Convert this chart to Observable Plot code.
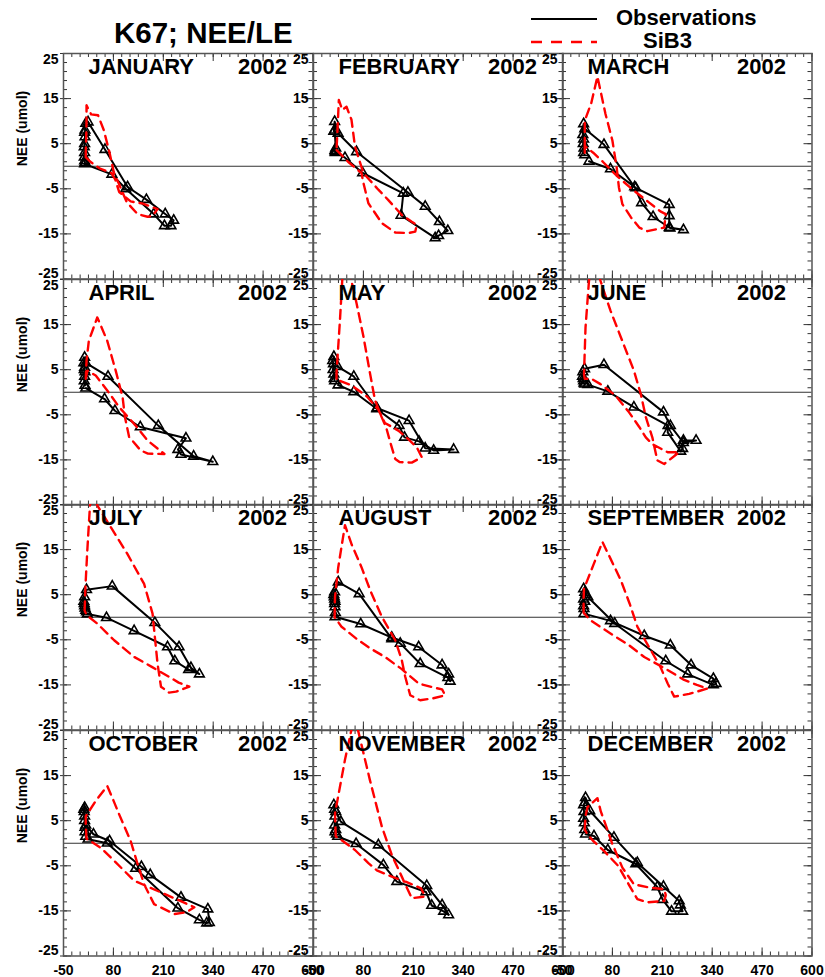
<!DOCTYPE html>
<html><head><meta charset="utf-8">
<script src="https://cdn.jsdelivr.net/npm/d3@7"></script>
<script src="https://cdn.jsdelivr.net/npm/@observablehq/plot@0.6"></script>
<style>
body{margin:0;background:#fff;}
#wrap{position:relative;width:825px;height:977px;font-family:"Liberation Sans",Arial,Helvetica,sans-serif;}
</style></head><body><div id="wrap"></div>
<script>
// ---------- data ----------
const chartTitle = "K67; NEE/LE";
const yearLabel = "2002";
const yLabel = "NEE (umol)";
const seriesNames = ["Observations", "SiB3"];
const months = ["JANUARY","FEBRUARY","MARCH","APRIL","MAY","JUNE","JULY","AUGUST","SEPTEMBER","OCTOBER","NOVEMBER","DECEMBER"];
const xTicks = [-50, 80, 210, 340, 470, 600];
const yTicks = [-25, -15, -5, 5, 15, 25];

// [LE, NEE] pairs
const obsJan = [[5,0.5],[76,-1.8],[112,-5],[185,-10.6],[213,-13.2],[230,-13.2],[237,-12],[215,-10.6],[166,-7.4],[117,-4.6],[58,3.7],[14,9.8],[8,9.5],[6,8],[5,7.5],[6,6.5],[5,5],[4,4.3],[5,3],[4,2],[5,1.2],[6,0.8]];
const simJan = [[8,2],[20,1],[45,-0.5],[75,-1.5],[85,-3],[95,-5.7],[125,-7.8],[157,-8.3],[195,-9.5],[182,-11],[169,-11.2],[143,-10.6],[115,-8],[95,-4],[82,-1.7],[70,3],[55,8],[40,11.3],[22,11.5],[10,13.5],[10,10],[9,6],[8,3],[8,2]];
const obsFeb = [[6,3.2],[32,1.9],[78,-1.5],[184,-6],[178,-10.9],[267,-15.9],[276,-15.4],[300,-14.3],[278,-12.3],[241,-8.9],[196,-5.8],[62,3.2],[14,7.3],[5,9.9],[3,7.7],[5,8],[8,4],[6,3.5],[7,3]];
const simFeb = [[10,3.6],[40,1],[75,-1.5],[80,-3.7],[93,-8.2],[128,-12.6],[163,-14.7],[197,-14.8],[215,-14.5],[219,-13],[206,-12.3],[180,-10.8],[145,-7.5],[119,-5.2],[80,-1.5],[58,4.4],[49,10.3],[36,13.2],[25,12.5],[16,14.7],[13,9],[10,3.6]];
const obsMar = [[19,1.1],[75,-0.6],[141,-4.8],[228,-8.5],[228,-11],[228,-13.6],[265,-14.1],[230,-13.7],[186,-11.2],[156,-8.1],[138,-4.6],[58,4.8],[8,8.3],[5,9.4],[3,7],[5,6],[4,5],[6,4],[5,3],[8,2.5]];
const simMar = [[8,3],[8,4.5],[30,3],[55,1],[90,-2],[130,-5],[175,-8],[205,-10],[219,-10.6],[215,-13.6],[171,-14.4],[150,-13.6],[128,-11.3],[106,-8.4],[97,-4.7],[91,-0.2],[80,5.7],[62,11.6],[41,19.9],[25,14],[8,10.1],[8,6],[8,3]];
const obsApr = [[8,0.9],[57,-1.5],[84,-4.1],[150,-7.7],[269,-10.2],[248,-12.7],[256,-13.8],[339,-15.4],[289,-14.2],[197,-7.4],[66,3.5],[8,6.5],[5,7.7],[3,6.5],[5,5.5],[4,5],[6,4.5],[5,3.5],[4,2.5],[6,1.5]];
const simApr = [[8,3],[12,4.8],[34,3.7],[64,0.4],[95,-3.3],[138,-7.4],[169,-10.7],[213,-13.7],[170,-13.6],[151,-12.9],[121,-9.9],[110,-5.5],[104,-1.1],[86,4.8],[64,11.4],[38,16.6],[16,11.4],[10,7],[8,3]];
const obsMay = [[14,1.6],[55,0.1],[115,-3.7],[173,-7.4],[187,-10],[225,-10.9],[263,-12.9],[315,-12.7],[241,-12.4],[199,-6.3],[115,-3.5],[55,3.5],[13,5.7],[3,7.9],[0,7],[2,6.3],[1,5],[3,4],[4,3],[5,2.5]];
const simMay = [[10,3],[10,4.3],[19,16.1],[25,25],[34,30],[48,25],[62,19.8],[80,12.4],[97,4.3],[110,-1.7],[125,-5],[140,-8],[150,-11.1],[163,-14.8],[175,-15.5],[206,-15.6],[232,-14.4],[219,-12.2],[197,-10.4],[171,-8.5],[136,-6.8],[119,-3.9],[90,-1],[50,1.5],[20,2.5],[10,3]];
const obsJun = [[16,1.7],[68,0.2],[136,-3.3],[225,-7.4],[224,-8.9],[258,-13.1],[263,-12.5],[265,-10.7],[298,-10.7],[265,-11.2],[231,-7.4],[213,-4.4],[58,6.1],[7.5,5.2],[3,4.5],[2,3.5],[4,3],[5,2.5],[6,2],[8,1.8]];
const simJun = [[8,3],[6,4],[10,14.4],[19,24.7],[32,31],[49,24.7],[75,18.1],[102,12.2],[136,4.8],[154,-0.4],[167,-5.5],[184,-10],[197,-15.1],[215,-15.9],[254,-13.3],[224,-13.3],[184,-11.5],[167,-10],[150,-7.7],[123,-4.4],[88,-0.7],[49,1.8],[25,3],[8,3]];
const obsJul = [[12,0.7],[62,-0.1],[134,-3],[221,-6.6],[240,-9.7],[276,-11.6],[304,-12.6],[282,-11.2],[251,-6.6],[188,-1.2],[77,6.9],[10,6.1],[5,4.5],[3,3.5],[4,3],[5,2.5],[6,2],[8,1.5],[10,1.2]];
const simJul = [[5,1.5],[7.5,7.4],[12,14.8],[19,24.8],[28,28.5],[38,24.8],[68,20.7],[116,14.1],[160,7.4],[182,0.8],[188,-4.4],[195,-10.3],[204,-15.4],[225,-16.7],[243,-16.5],[278,-15.4],[250,-14.5],[225,-13.2],[180,-11],[134,-8.8],[82,-5.1],[38,-1.4],[10,0.5],[5,1.5]];
const obsAug = [[6,0.1],[73,-1.5],[154,-4.5],[224,-6.6],[285,-10.6],[302,-12.6],[306,-14.2],[300,-13.4],[228,-10.3],[176,-5.8],[154,-4.8],[69,5.2],[14.5,7.8],[5,5.6],[3,5],[4,4.5],[5,4],[6,3.5],[5,3],[6,2.3],[7,1]];
const simAug = [[5,0],[6,4.5],[14.5,11.1],[32,20.4],[50,16],[75,11.1],[100,5.5],[128,0.1],[163,-5.1],[180,-9.5],[189,-13.2],[202,-17.3],[228,-18.4],[260,-18],[293,-17.3],[285,-16],[260,-15.5],[224,-14.7],[180,-11.5],[136,-8.8],[100,-7],[67,-5.1],[23,-2.1],[5,0]];
const obsSep = [[6,0.8],[75,-0.8],[163,-4.1],[231,-6.2],[285,-10.6],[343,-13.6],[350,-14.7],[343,-15],[276,-12.6],[219,-9.7],[86,-1.4],[16,4.5],[5,6.3],[8,5.5],[10,5],[5,4],[8,3.5],[5,2.5],[6,1.9]];
const simSep = [[5,1],[5,4],[6,6.3],[30,11.5],[54,16.7],[75,13],[102,8.2],[125,3],[145,-2.1],[180,-7.3],[205,-11],[224,-14.7],[241,-17.6],[280,-17],[328,-15.8],[300,-15],[267,-13.9],[220,-11.5],[163,-8.8],[120,-6],[75,-3.6],[23,-0.7],[5,1]];
const obsOct = [[14,0.9],[64,0],[138,-5.6],[248,-14.4],[304,-17],[323,-17.7],[330,-17.6],[326,-14.6],[256,-12],[176,-7],[153,-5.2],[70,0.5],[28,2],[8,4],[5,6],[3,7.5],[5,7.9],[4,7],[5,5],[6,3.5],[6,2.5],[8,1.5]];
const simOct = [[10,1],[8,4],[8,6],[35,9.5],[64,12.7],[80,9.5],[95,6.4],[125,0.5],[143,-4.6],[160,-9.1],[186,-13.5],[239,-15.7],[270,-15.3],[291,-14.2],[260,-13],[220,-11.5],[134,-8.3],[82,-3.9],[47,-1],[12,0.9],[10,1]];
const obsNov = [[13,1.5],[61,-0.1],[132,-4.8],[167,-8.5],[243,-10.8],[258,-13.8],[289,-15.1],[302,-15.9],[285,-13.7],[245,-9.4],[119,-0.4],[21,4.8],[8,7],[3,8.5],[5,7.5],[6,6],[5,4],[8,3],[6,2.5],[10,2]];
const simNov = [[8,1.5],[6,6.6],[32,18.5],[56,28],[67,24.7],[97,14],[128,3.7],[154,-2.6],[180,-7.4],[206,-12.2],[241,-11.8],[230,-10],[190,-8.5],[154,-7.4],[115,-6],[93,-4.4],[58,-1.5],[23,0.7],[8,1.5]];
const obsDec = [[10,2],[32,1.6],[68,-1.5],[141,-4.6],[197,-9.7],[211,-12.5],[234,-15.1],[263,-15.1],[257,-13.7],[254,-12.8],[213,-9.6],[145,-4.3],[84,1.3],[21,7.2],[10,10.1],[8,9],[5,8.5],[6,7],[5,5.5],[7,4.5],[8,3]];
const simDec = [[8,3],[10,6],[15,8],[41,10],[50,7],[62,4.2],[80,-0.2],[106,-5.4],[136,-9.1],[175,-9.8],[215,-10.2],[219,-11.5],[215,-12.8],[171,-13.1],[145,-12.4],[125,-9.5],[95,-5],[58,-1.7],[30,0.5],[15,2],[8,3]];

const obsAll = [obsJan,obsFeb,obsMar,obsApr,obsMay,obsJun,obsJul,obsAug,obsSep,obsOct,obsNov,obsDec];
const simAll = [simJan,simFeb,simMar,simApr,simMay,simJun,simJul,simAug,simSep,simOct,simNov,simDec];

// ---------- layout ----------
const wrap = document.getElementById("wrap");
const FONT = "'Liberation Sans', Arial, Helvetica, sans-serif";
const PW = 249.5, PH = 225.5, X0 = 63, Y0 = 53;
const ML = 50, MR = 4, MT = 4, MB = 26;
const yMinor = d3.range(yTicks[0], yTicks[yTicks.length-1] + 0.001, 2);
const xStep = (xTicks[1] - xTicks[0]) / 6;
const xMinor = d3.range(0, (xTicks.length - 1) * 6 + 1).map(i => xTicks[0] + i * xStep);
const TK = "#333";
const lblFont = {fontSize: 14, fontWeight: "bold", tickFormat: d => String(d), label: null, tickSize: 0};

// header (title + legend)
const ns = "http://www.w3.org/2000/svg";
const head = document.createElementNS(ns, "svg");
head.setAttribute("width", 825); head.setAttribute("height", 53);
head.style.position = "absolute"; head.style.left = "0px"; head.style.top = "0px";
head.innerHTML = `
  <text x="114" y="43" font-family="${FONT}" font-weight="bold" font-size="29.5" fill="#000">${chartTitle}</text>
  <line x1="531" x2="597" y1="19" y2="19" stroke="#000" stroke-width="2"/>
  <text x="616" y="25" font-family="${FONT}" font-weight="bold" font-size="22" fill="#000">${seriesNames[0]}</text>
  <line x1="531" x2="597" y1="42" y2="42" stroke="#f00" stroke-width="2.5" stroke-dasharray="11,9"/>
  <text x="643" y="48" font-family="${FONT}" font-weight="bold" font-size="22" fill="#000">${seriesNames[1]}</text>`;
wrap.appendChild(head);

months.forEach((m, i) => {
  const r = Math.floor(i / 3), c = i % 3;
  const bottom = r === 3;
  const mid = yTicks.filter(v => v !== yTicks[0] && v !== yTicks[yTicks.length-1]);
  const marks = [
    Plot.ruleY([0], {stroke: "#333", strokeWidth: 1}),
    // minor ticks (inward)
    Plot.tickY(yMinor, {y: d => d, insetRight: PW - 4, stroke: TK}),
    Plot.tickY(yMinor, {y: d => d, insetLeft: PW - 4, stroke: TK}),
    Plot.tickX(xMinor, {x: d => d, insetBottom: PH - 4, stroke: TK}),
    Plot.tickX(xMinor, {x: d => d, insetTop: PH - 4, stroke: TK}),
    // major ticks (inward, small outward on left)
    Plot.tickY(yTicks, {y: d => d, insetLeft: -3, insetRight: PW - 8, stroke: TK}),
    Plot.tickY(yTicks, {y: d => d, insetLeft: PW - 8, stroke: TK}),
    Plot.tickX(xTicks, {x: d => d, insetBottom: PH - 8, stroke: TK}),
    Plot.tickX(xTicks, {x: d => d, insetTop: PH - 8, stroke: TK}),
    Plot.frame({stroke: "#555", strokeWidth: 1.5}),
    // observations
    Plot.line(obsAll[i], {x: d => d[0], y: d => d[1], stroke: "#000", strokeWidth: 2, clip: true}),
    Plot.dot(obsAll[i], {x: d => d[0], y: d => d[1], symbol: "triangle", r: 3.6, stroke: "#000", strokeWidth: 1.6, fill: "none", clip: true}),
    // model
    Plot.line(simAll[i], {x: d => d[0], y: d => d[1], stroke: "#ff0000", strokeWidth: 2.4, strokeDasharray: "9,6", clip: true}),
    // panel titles
    Plot.text([m], {frameAnchor: "top-left", dx: 25, dy: 5, textAnchor: "start", lineAnchor: "top", fontSize: 22, fontWeight: "bold", fill: "#000"}),
    Plot.text([yearLabel], {frameAnchor: "top-right", dx: -26, dy: 5, textAnchor: "end", lineAnchor: "top", fontSize: 22, fontWeight: "bold", fill: "#000"}),
    // y tick labels
    Plot.axisY(mid, {anchor: "left", tickPadding: 5, ...lblFont}),
    Plot.axisY([yTicks[yTicks.length-1]], {anchor: "left", tickPadding: 5, dy: 6.5, ...lblFont}),
    Plot.axisY([yTicks[0]], {anchor: "left", tickPadding: 5, dy: -5.5, ...lblFont})
  ];
  if (c === 0) {
    marks.push(Plot.text([yLabel], {frameAnchor: "left", dx: -41, rotate: -90, fontSize: 14, fontWeight: "bold", fill: "#000"}));
  }
  if (bottom) {
    marks.push(Plot.axisX(xTicks, {anchor: "bottom", tickPadding: 9, ...lblFont}));
  }
  const xOpt = {domain: [xTicks[0], xTicks[xTicks.length-1]]};
  if (!bottom) xOpt.axis = null;
  const svg = Plot.plot({
    width: PW + ML + MR, height: PH + MT + MB,
    marginLeft: ML, marginRight: MR, marginTop: MT, marginBottom: MB,
    x: xOpt,
    y: {domain: [yTicks[0], yTicks[yTicks.length-1]]},
    style: {background: "transparent", overflow: "visible", fontFamily: FONT, color: "#000"},
    marks
  });
  svg.style.position = "absolute";
  svg.style.left = (X0 + c * PW - ML) + "px";
  svg.style.top = (Y0 + r * PH - MT) + "px";
  svg.style.maxWidth = "none";
  wrap.appendChild(svg);
});
</script></body></html>
